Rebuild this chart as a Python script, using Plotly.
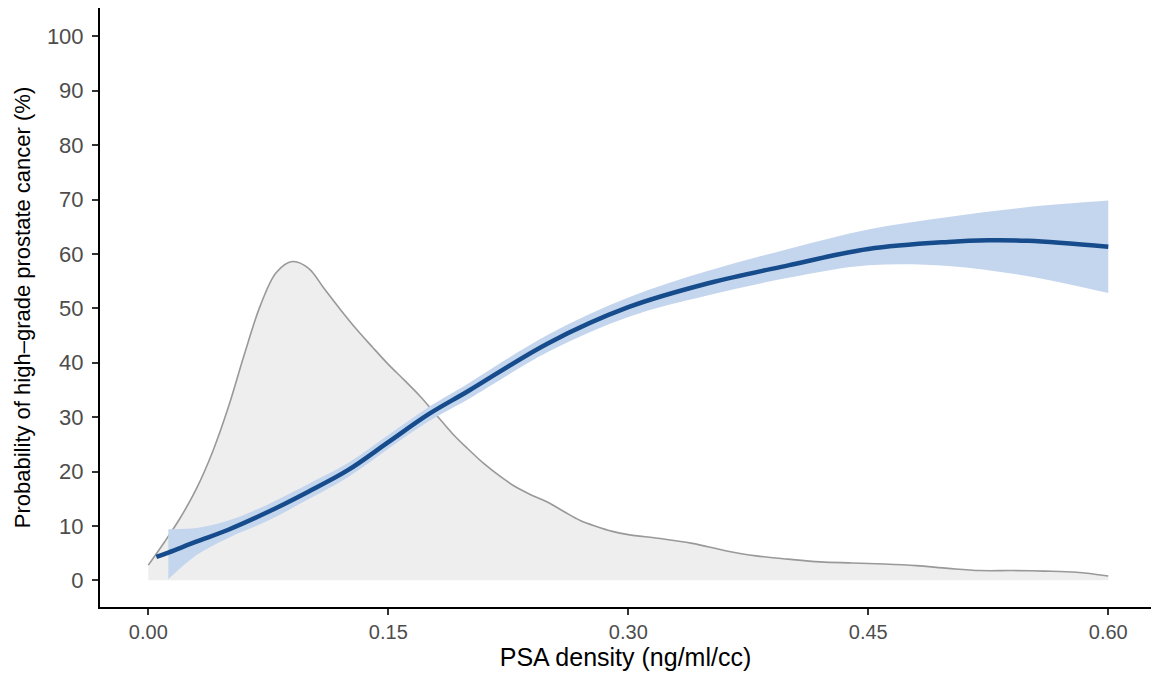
import plotly.graph_objects as go

# Density of PSA density (scaled to % axis)
dens_x = [0, 0.01, 0.02, 0.03, 0.04, 0.05, 0.06, 0.07, 0.08, 0.09, 0.10, 0.11, 0.12, 0.13,
          0.14, 0.15, 0.16, 0.17, 0.18, 0.19, 0.20, 0.21, 0.22, 0.23, 0.24, 0.25, 0.26, 0.27,
          0.28, 0.29, 0.30, 0.32, 0.34, 0.36, 0.38, 0.40, 0.42, 0.44, 0.46, 0.48, 0.50, 0.52,
          0.54, 0.56, 0.58, 0.60]
dens_y = [2.8, 7.0, 11.5, 16.8, 23.5, 31.8, 41.5, 50.5, 56.6, 58.6, 57.4, 53.6, 49.8, 46.2,
          42.9, 39.7, 36.8, 33.8, 30.4, 27.0, 24.1, 21.4, 19.1, 17.1, 15.6, 14.3, 12.6, 11.0,
          9.9, 9.0, 8.4, 7.7, 6.8, 5.5, 4.5, 3.9, 3.4, 3.2, 3.0, 2.7, 2.2, 1.8,
          1.8, 1.7, 1.5, 0.8]

# Fitted probability curve
fit_x = [0.005, 0.0125, 0.03, 0.05, 0.075, 0.10, 0.125, 0.15, 0.175, 0.20, 0.25, 0.30,
         0.35, 0.40, 0.45, 0.50, 0.525, 0.55, 0.60]
fit_y = [4.3, 5.1, 7.1, 9.3, 12.6, 16.3, 20.3, 25.4, 30.5, 34.8, 43.6, 50.2,
         54.6, 57.9, 60.9, 62.2, 62.5, 62.4, 61.3]

# Confidence band
ci_x = [0.0125, 0.03, 0.05, 0.075, 0.10, 0.125, 0.15, 0.175, 0.20, 0.25, 0.30,
        0.35, 0.40, 0.45, 0.50, 0.55, 0.60]
ci_lo = [0.2, 4.6, 7.8, 11.0, 14.9, 19.0, 24.2, 29.2, 33.3, 42.0, 48.4,
         52.4, 55.6, 57.9, 57.8, 55.9, 52.8]
ci_hi = [9.4, 9.6, 11.0, 14.0, 17.7, 21.6, 26.7, 31.8, 36.2, 45.2, 52.0,
         56.9, 60.9, 64.5, 66.8, 68.6, 69.8]

x_ticks = [0.0, 0.15, 0.30, 0.45, 0.60]
x_ticklabels = ["0.00", "0.15", "0.30", "0.45", "0.60"]
y_ticks = [0, 10, 20, 30, 40, 50, 60, 70, 80, 90, 100]

fig = go.Figure()

fig.add_trace(go.Scatter(
    x=dens_x, y=dens_y, mode="lines", fill="tozeroy",
    fillcolor="#EEEEEE", line=dict(color="#999999", width=1.6, shape="spline"),
    hoverinfo="skip", showlegend=False))

fig.add_trace(go.Scatter(
    x=ci_x, y=ci_lo, mode="lines", line=dict(width=0, shape="spline"),
    hoverinfo="skip", showlegend=False))
fig.add_trace(go.Scatter(
    x=ci_x, y=ci_hi, mode="lines", line=dict(width=0, shape="spline"),
    fill="tonexty", fillcolor="#C4D6EE", hoverinfo="skip", showlegend=False))

fig.add_trace(go.Scatter(
    x=fit_x, y=fit_y, mode="lines",
    line=dict(color="#164B8C", width=4.5, shape="spline"),
    showlegend=False))

font_family = "Liberation Sans, Arial, Helvetica, sans-serif"

fig.update_layout(
    width=1143, height=663,
    margin=dict(l=92, r=0, t=0, b=64),
    plot_bgcolor="white", paper_bgcolor="white",
    font=dict(family=font_family, color="#4D4D4D"),
    xaxis=dict(
        range=[-0.0302, 0.6267], tickvals=x_ticks, ticktext=x_ticklabels,
        showgrid=False, zeroline=False, showline=True, linecolor="black", linewidth=2,
        ticks="outside", ticklen=6, tickwidth=1.5, tickcolor="#333333",
        tickfont=dict(size=20, color="#4D4D4D"), automargin=False,
        title=dict(text="PSA density (ng/ml/cc)", font=dict(size=25, color="black"), standoff=11),
    ),
    yaxis=dict(
        range=[-4.9, 105.2], tickvals=y_ticks,
        showgrid=False, zeroline=False, showline=True, linecolor="black", linewidth=2,
        ticks="outside", ticklen=6, tickwidth=1.5, tickcolor="#333333",
        tickfont=dict(size=22, color="#4D4D4D"), automargin=False, ticklabelstandoff=4,
        title=dict(text="Probability of high\u2013grade prostate cancer (%)",
                   font=dict(size=22, color="black"), standoff=10),
    ),
)

fig.write_html("out.html")
